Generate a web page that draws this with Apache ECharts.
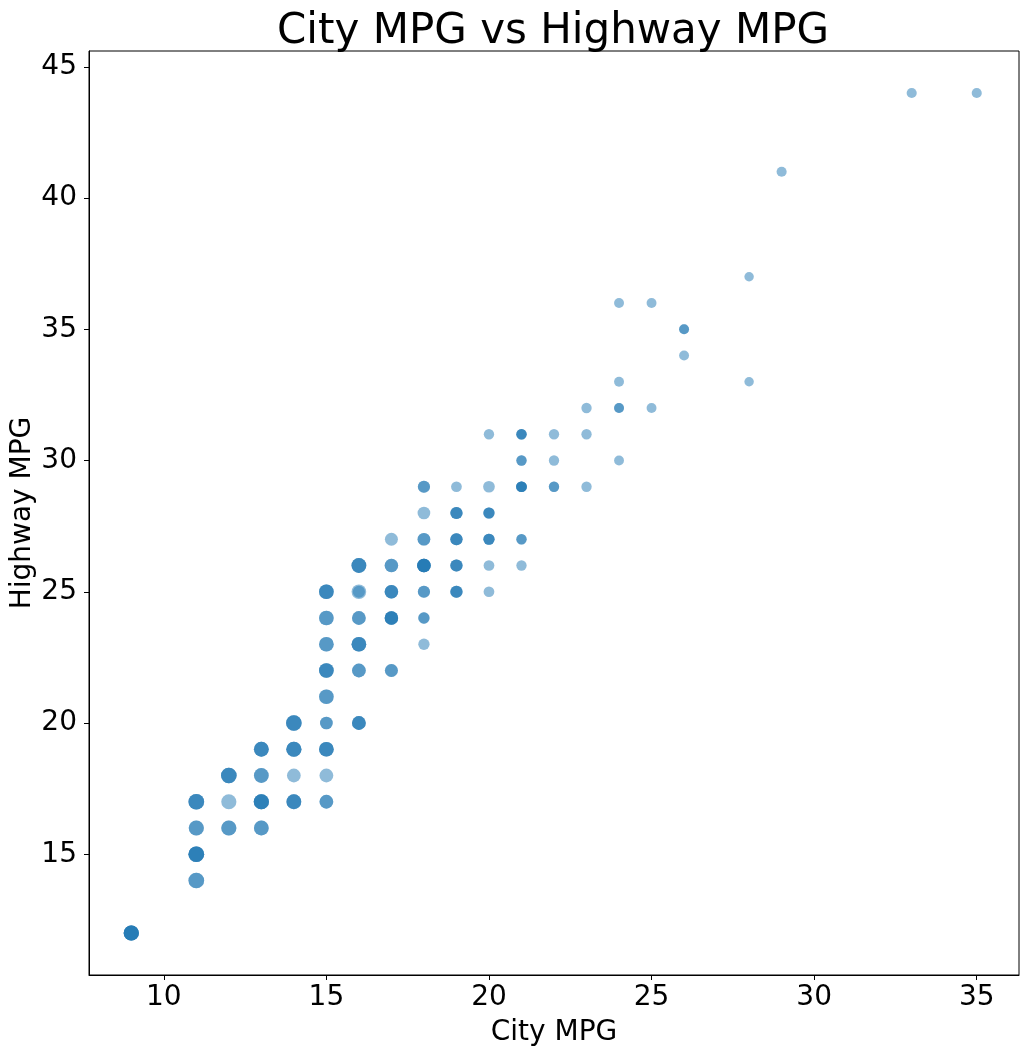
<!DOCTYPE html>
<html>
<head>
<meta charset="utf-8">
<script src="https://cdn.jsdelivr.net/npm/echarts@6/dist/echarts.min.js"></script>
<style>
  html, body { margin: 0; padding: 0; background: #fff; }
  #chart { width: 1029px; height: 1056px; }
</style>
</head>
<body>
<div id="chart"></div>
<script>
// distinct (city, highway) points
// cars = how many cars sit on the same spot (darker = more), displ = engine size (marker size)
var cty = [9, 11, 11, 11, 11, 12, 12, 12, 13, 13, 13, 13, 14, 14, 14, 14,
  15, 15, 15, 15, 15, 15, 15, 15, 15,
  16, 16, 16, 16, 16, 16, 16,
  17, 17, 17, 17, 17,
  18, 18, 18, 18, 18, 18, 18,
  19, 19, 19, 19, 19,
  20, 20, 20, 20, 20, 20,
  21, 21, 21, 21, 21,
  22, 22, 22, 23, 23, 23,
  24, 24, 24, 24, 25, 25, 26, 26, 28, 28, 29, 33, 35];
var hwy = [12, 14, 15, 16, 17, 16, 17, 18, 16, 17, 18, 19, 17, 18, 19, 20,
  17, 18, 19, 20, 21, 22, 23, 24, 25,
  20, 22, 23, 24, 25, 25, 26,
  22, 24, 25, 26, 27,
  23, 24, 25, 26, 27, 28, 29,
  25, 26, 27, 28, 29,
  25, 26, 27, 28, 29, 31,
  26, 27, 29, 30, 31,
  29, 30, 31, 29, 31, 32,
  30, 32, 33, 36, 32, 36, 34, 35, 33, 37, 41, 44, 44];
var cars = [5, 2, 4, 2, 3, 2, 1, 3, 2, 4, 2, 3, 3, 1, 3, 3,
  2, 1, 3, 2, 2, 3, 2, 2, 3,
  3, 2, 3, 2, 1, 1, 3,
  2, 4, 3, 2, 1,
  1, 2, 2, 5, 2, 1, 2,
  3, 3, 3, 3, 1,
  1, 1, 3, 3, 1, 1,
  1, 2, 4, 2, 3,
  2, 1, 1, 1, 1, 1,
  1, 2, 1, 1, 1, 1, 1, 2, 1, 1, 1, 1, 1];
var displ = [5.0, 5.4, 5.4, 5.0, 5.4, 5.0, 5.0, 5.3, 4.7, 5.0, 4.7, 4.7, 4.7, 4.0, 5.0, 5.3,
  4.0, 4.0, 4.6, 3.3, 4.6, 4.6, 4.6, 4.6, 4.6,
  4.0, 4.0, 4.6, 4.0, 4.6, 3.0, 4.7,
  3.5, 3.8, 3.8, 3.8, 3.5,
  2.5, 2.5, 3.0, 3.8, 3.3, 3.3, 3.0,
  3.0, 3.0, 3.0, 3.0, 2.2,
  2.2, 2.2, 2.4, 2.4, 2.7, 2.0,
  2.0, 2.0, 2.2, 2.0, 2.0,
  2.0, 2.0, 2.0, 2.0, 2.0, 2.0,
  1.8, 1.8, 1.8, 1.8, 1.8, 1.8, 1.8, 1.8, 1.6, 1.6, 1.9, 1.9, 1.9];

var xTicks = [10, 15, 20, 25, 30, 35];
var yTicks = [15, 20, 25, 30, 35, 40, 45];

// one mark per car, so overlaps darken like the original
var points = [];
for (var i = 0; i < cty.length; i++) {
  for (var k = 0; k < cars[i]; k++) {
    points.push([cty[i], hwy[i], displ[i]]);
  }
}

var chart = echarts.init(document.getElementById('chart'));
var font = 'DejaVu Sans';

chart.setOption({
  animation: false,
  backgroundColor: '#fff',
  textStyle: { fontFamily: font },
  title: {
    text: 'City MPG vs Highway MPG',
    left: 272,
    top: 6,
    textStyle: { fontFamily: font, fontSize: 42, fontWeight: 'normal', color: '#000' }
  },
  grid: {
    left: 89, right: 10, top: 51, bottom: 81,
    outerBoundsMode: 'none',
    containLabel: false,
    show: true, borderColor: '#000', borderWidth: 1
  },
  xAxis: {
    type: 'value',
    min: 7.7,
    max: 36.3,
    name: 'City MPG',
    nameLocation: 'middle',
    nameGap: 44,
    nameMoveOverlap: false,
    nameTextStyle: { fontFamily: font, fontSize: 28, color: '#000' },
    axisLine: { show: true, lineStyle: { color: '#000', width: 1 } },
    axisTick: { show: true, length: 5, customValues: xTicks, lineStyle: { color: '#000' } },
    axisLabel: { customValues: xTicks, fontSize: 28, color: '#000', margin: 9, fontFamily: font },
    splitLine: { show: false }
  },
  yAxis: {
    type: 'value',
    min: 10.4,
    max: 45.6,
    name: 'Highway MPG',
    nameLocation: 'middle',
    nameGap: 52,
    nameMoveOverlap: false,
    nameTextStyle: { fontFamily: font, fontSize: 28, color: '#000' },
    axisLine: { show: true, lineStyle: { color: '#000', width: 1 } },
    axisTick: { show: true, length: 5, customValues: yTicks, lineStyle: { color: '#000' } },
    axisLabel: { customValues: yTicks, fontSize: 28, color: '#000', margin: 12, fontFamily: font },
    splitLine: { show: false }
  },
  series: [{
    type: 'scatter',
    data: points,
    symbol: 'circle',
    symbolSize: function (v) {
      return Math.sqrt(18 * v[2]) * 100 / 72 + 2;
    },
    itemStyle: { color: '#1f77b4', opacity: 0.5 },
    emphasis: { disabled: true }
  }]
});
</script>
</body>
</html>
